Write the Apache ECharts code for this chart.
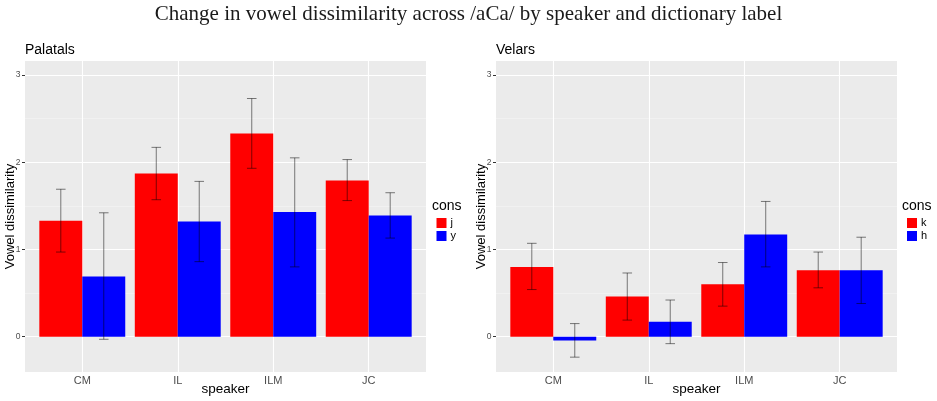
<!DOCTYPE html>
<html>
<head>
<meta charset="utf-8">
<script src="https://cdn.jsdelivr.net/npm/echarts@6/dist/echarts.min.js"></script>
<style>html,body{margin:0;padding:0;background:#fff;}#c{width:937px;height:401px;}</style>
</head>
<body>
<div id="c"></div>
<script>
// ---- data ----
var speakers = ['CM', 'IL', 'ILM', 'JC'];
var yTicks = [0, 1, 2, 3];
var yMinor = [0.5, 1.5, 2.5];
// Palatals
var palJ   = [1.33, 1.87, 2.33, 1.79];
var palJlo = [0.97, 1.57, 1.93, 1.56];
var palJhi = [1.69, 2.17, 2.73, 2.03];
var palY   = [0.69, 1.32, 1.43, 1.39];
var palYlo = [-0.03, 0.86, 0.80, 1.13];
var palYhi = [1.42, 1.78, 2.05, 1.65];
// Velars
var velK   = [0.80, 0.46, 0.60, 0.76];
var velKlo = [0.54, 0.19, 0.35, 0.56];
var velKhi = [1.07, 0.73, 0.85, 0.97];
var velH   = [-0.045, 0.17, 1.17, 0.76];
var velHlo = [-0.235, -0.08, 0.80, 0.38];
var velHhi = [0.15, 0.42, 1.55, 1.14];

var YMIN = -0.405, YMAX = 3.16;
var RED = '#FF0000', BLUE = '#0000FF';

function rows(vals, lo, hi) {
  return vals.map(function (v, i) { return [i + 1, v, lo[i], hi[i]]; });
}

function makeRender(offset) {
  return function (params, api) {
    var x = api.value(0) + offset;
    var v = api.value(1), lo = api.value(2), hi = api.value(3);
    var p0 = api.coord([x - 0.225, v]);
    var p1 = api.coord([x + 0.225, 0]);
    var top = Math.min(p0[1], p1[1]), h = Math.abs(p1[1] - p0[1]);
    var eTop = api.coord([x, hi]), eBot = api.coord([x, lo]);
    var wl = api.coord([x - 0.05, hi]), wr = api.coord([x + 0.05, hi]);
    var bl = api.coord([x - 0.05, lo]), br = api.coord([x + 0.05, lo]);
    var ls = { stroke: 'rgba(0,0,0,0.5)', lineWidth: 1 };
    return {
      type: 'group',
      children: [
        { type: 'rect', shape: { x: p0[0], y: top, width: p1[0] - p0[0], height: h },
          style: { fill: api.visual('color') } },
        { type: 'line', shape: { x1: eTop[0], y1: eTop[1], x2: eBot[0], y2: eBot[1] }, style: ls },
        { type: 'line', shape: { x1: wl[0], y1: wl[1], x2: wr[0], y2: wr[1] }, style: ls },
        { type: 'line', shape: { x1: bl[0], y1: bl[1], x2: br[0], y2: br[1] }, style: ls }
      ]
    };
  };
}

function xAxisDef(gi) {
  return {
    type: 'value', gridIndex: gi, min: 0.4, max: 4.6,
    name: 'speaker', nameLocation: 'middle', nameGap: 10, nameMoveOverlap: false,
    nameTextStyle: { fontFamily: 'Liberation Sans', fontSize: 13.5, color: '#000' },
    axisLine: { show: false },
    axisTick: { show: false, customValues: [1, 2, 3, 4] },
    axisLabel: { customValues: [1, 2, 3, 4], margin: 3.5, fontFamily: 'Liberation Sans', fontSize: 11, color: '#4D4D4D',
      formatter: function (v) { return speakers[Math.round(v) - 1] || ''; } },
    splitLine: { show: true, lineStyle: { color: '#FFFFFF', width: 1.1 } }
  };
}
function yAxisDef(gi) {
  return {
    type: 'value', gridIndex: gi, min: YMIN, max: YMAX, position: 'left',
    name: 'Vowel dissimilarity', nameLocation: 'middle', nameGap: 8, nameMoveOverlap: false,
    nameTextStyle: { fontFamily: 'Liberation Sans', fontSize: 13, color: '#000' },
    axisLine: { show: false },
    axisTick: { show: true, length: 3, customValues: yTicks, lineStyle: { color: '#333333', width: 1 } },
    axisLabel: { customValues: yTicks, margin: 4.5, fontFamily: 'Liberation Sans', fontSize: 8.5, color: '#4D4D4D' },
    splitLine: { show: true, lineStyle: { color: '#FFFFFF', width: 1.1 } }
  };
}
function yMinorDef(gi) {
  return {
    type: 'value', gridIndex: gi, min: YMIN, max: YMAX, position: 'left',
    axisLine: { show: false },
    axisTick: { show: false, customValues: yMinor },
    axisLabel: { show: false, customValues: yMinor },
    splitLine: { show: true, lineStyle: { color: '#F5F5F5', width: 0.6 } }
  };
}

var chart = echarts.init(document.getElementById('c'), null, { renderer: 'canvas' });
chart.setOption({
  animation: false,
  backgroundColor: '#FFFFFF',
  title: [
    { text: 'Change in vowel dissimilarity across /aCa/ by speaker and dictionary label',
      left: 'center', top: 4, padding: 0,
      textStyle: { fontFamily: 'Liberation Serif', fontSize: 21, fontWeight: 'normal', color: '#1a1a1a' } },
    { text: 'Palatals', left: 25, top: 43, padding: 0,
      textStyle: { fontFamily: 'Liberation Sans', fontSize: 14, fontWeight: 'normal', color: '#000' } },
    { text: 'Velars', left: 496, top: 43, padding: 0,
      textStyle: { fontFamily: 'Liberation Sans', fontSize: 14, fontWeight: 'normal', color: '#000' } }
  ],
  graphic: [
    { type: 'text', left: 432, top: 199, style: { text: 'cons', font: '14px "Liberation Sans"', fill: '#000' } },
    { type: 'text', left: 902, top: 199, style: { text: 'cons', font: '14px "Liberation Sans"', fill: '#000' } }
  ],
  legend: [
    { data: ['j', 'y'], left: 436.5, top: 217.5, orient: 'vertical', padding: 0,
      itemWidth: 10, itemHeight: 10, itemGap: 2, icon: 'rect',
      textStyle: { fontFamily: 'Liberation Sans', fontSize: 11, color: '#000', padding: [0, 0, 0, -1] }, selectedMode: false },
    { data: ['k', 'h'], left: 907, top: 217.5, orient: 'vertical', padding: 0,
      itemWidth: 10, itemHeight: 10, itemGap: 2, icon: 'rect',
      textStyle: { fontFamily: 'Liberation Sans', fontSize: 11, color: '#000', padding: [0, 0, 0, -1] }, selectedMode: false }
  ],
  grid: [
    { left: 25, top: 61, width: 401, height: 313, show: true, backgroundColor: '#EBEBEB', borderWidth: 0 },
    { left: 496, top: 61, width: 401, height: 313, show: true, backgroundColor: '#EBEBEB', borderWidth: 0 }
  ],
  xAxis: [xAxisDef(0), xAxisDef(1)],
  yAxis: [yAxisDef(0), yAxisDef(1), yMinorDef(0), yMinorDef(1)],
  series: [
    { name: 'j', type: 'custom', xAxisIndex: 0, yAxisIndex: 0, itemStyle: { color: RED },
      renderItem: makeRender(-0.225), data: rows(palJ, palJlo, palJhi), encode: { x: 0, y: [1, 2, 3] } },
    { name: 'y', type: 'custom', xAxisIndex: 0, yAxisIndex: 0, itemStyle: { color: BLUE },
      renderItem: makeRender(0.225), data: rows(palY, palYlo, palYhi), encode: { x: 0, y: [1, 2, 3] } },
    { name: 'k', type: 'custom', xAxisIndex: 1, yAxisIndex: 1, itemStyle: { color: RED },
      renderItem: makeRender(-0.225), data: rows(velK, velKlo, velKhi), encode: { x: 0, y: [1, 2, 3] } },
    { name: 'h', type: 'custom', xAxisIndex: 1, yAxisIndex: 1, itemStyle: { color: BLUE },
      renderItem: makeRender(0.225), data: rows(velH, velHlo, velHhi), encode: { x: 0, y: [1, 2, 3] } }
  ]
});
</script>
</body>
</html>
